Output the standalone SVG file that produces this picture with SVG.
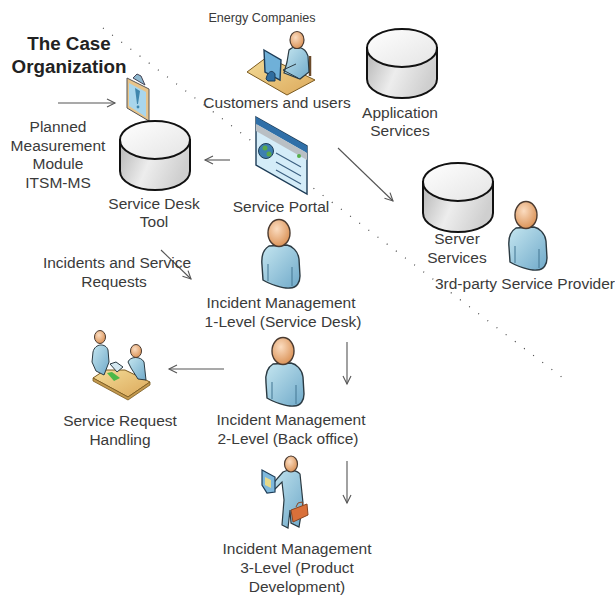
<svg xmlns="http://www.w3.org/2000/svg" width="615" height="596" viewBox="0 0 615 596">
<style>
text{font-family:"Liberation Sans",Arial,sans-serif;font-size:15.5px;fill:#3a3a3a;text-anchor:middle}
.t{font-weight:bold;font-size:18.8px;fill:#222}
.e{font-size:12.6px}
.c{fill:none;stroke:#555;stroke-width:1.1}
</style>
<defs>
<linearGradient id="cy" x1="0" x2="1" y1="0" y2="0.3"><stop offset="0" stop-color="#b4b4b4"/><stop offset=".5" stop-color="#ededed"/><stop offset="1" stop-color="#cfcfcf"/></linearGradient>
<linearGradient id="ct" x1="0" x2="1" y1="0" y2="1"><stop offset="0" stop-color="#fff"/><stop offset="1" stop-color="#e4e4e4"/></linearGradient>
<radialGradient id="sk" cx=".4" cy=".35" r=".7"><stop offset="0" stop-color="#fbdcc0"/><stop offset="1" stop-color="#d98f52"/></radialGradient>
<linearGradient id="bl" x1="0" x2="1" y1="0" y2="1"><stop offset="0" stop-color="#c5e6f0"/><stop offset="1" stop-color="#6fa9c9"/></linearGradient>
<linearGradient id="tb" x1="0" x2="1" y1="0" y2="1"><stop offset="0" stop-color="#f3dc98"/><stop offset="1" stop-color="#dca85a"/></linearGradient>
<marker id="a" markerWidth="11" markerHeight="11" refX="9" refY="5" orient="auto" markerUnits="userSpaceOnUse"><path d="M1 1L9 5L1 9" fill="none" stroke="#555" stroke-width="1.1"/></marker>
<g id="cyl">
<path d="M0 19V50C0 61 16 69 35 69S70 61 70 50V19Z" fill="url(#cy)" stroke="#111" stroke-width="2"/>
<ellipse cx="35" cy="19" rx="35" ry="19" fill="url(#ct)" stroke="#111" stroke-width="2"/>
</g>
<g id="per">
<path d="M-10 13C-15 16-18 22-17 32L-16 47C-10 51 5 56 11 55C18 55 21 49 21 43L20 26C19 18 13 13 8 12Z" fill="url(#bl)" stroke="#2b3a42" stroke-width="1.4"/>
<path d="M-11 31V48M13 34V53" fill="none" stroke="#4a7d99" stroke-width="1.1"/>
<ellipse cx="0" cy="0" rx="11" ry="13.5" fill="url(#sk)" stroke="#4a3a30" stroke-width="1.4"/>
</g>
</defs>
<rect width="615" height="596" fill="#fff"/>
<g id="connectors">
<path d="M103 28L567 381" fill="none" stroke="#444" stroke-width="1.2" stroke-dasharray="1 10.5"/>
<path class="c" marker-end="url(#a)" d="M58 103H115"/>
<path class="c" marker-end="url(#a)" d="M230 160H205"/>
<path class="c" marker-end="url(#a)" d="M338 148L393 201"/>
<path class="c" marker-end="url(#a)" d="M161 250L191 279"/>
<path class="c" marker-end="url(#a)" d="M224 369H169"/>
<path class="c" marker-end="url(#a)" d="M347 342V384"/>
<path class="c" marker-end="url(#a)" d="M347 461V503"/>
</g>
<g id="case-org"><text class="t" x="69" y="50">The Case</text><text class="t" x="69" y="73">Organization</text></g>
<g id="energy-companies">
<text class="e" x="262" y="22">Energy Companies</text>
<path d="M247 72L267 57L315 80L287 95Z" fill="url(#tb)" stroke="#7a5a20" stroke-width="1"/>
<path d="M310 56V76" stroke="#6b4a2a" stroke-width="2.5" fill="none"/>
<path d="M289 50C294 45 305 46 308 56L309 72L300 79L284 73L287 62Z" fill="url(#bl)" stroke="#2b3a42" stroke-width="1.2"/>
<path d="M283 70L296 64M283 70L298 78" stroke="#2b3a42" stroke-width="1" fill="none"/>
<ellipse cx="297" cy="40" rx="7" ry="8.5" fill="url(#sk)" stroke="#4a3a30" stroke-width="1.2"/>
<path d="M264 50L281 60L280 80L265 72Z" fill="#6fb0d8" stroke="#1d3c57" stroke-width="1.4"/>
<path d="M266 79C268 70 273 70 275 74L275 81L268 81Z" fill="#2f6d9f" stroke="#1d3c57"/>
<text x="277" y="108">Customers and users</text>
</g>
<g id="application-services"><use href="#cyl" x="367" y="29"/><text x="400" y="118">Application</text><text x="400" y="136">Services</text></g>
<g id="service-desk-tool">
<path d="M127 78L149 89V121L127 108Z" fill="#e8c48a" stroke="#555" stroke-width="1"/>
<path d="M129 83L146 92V117L129 106Z" fill="#a9d6ec"/>
<path d="M133 78L137 74L141 76L145 85Z" fill="#8fb8cf" stroke="#445" stroke-width="1"/>
<path d="M135 88L140 91L138 104H137Z" fill="#3f86ad"/>
<circle cx="138" cy="107" r="1.4" fill="#3f86ad"/>
<use href="#cyl" x="120" y="121"/>
<text x="154" y="209">Service Desk</text><text x="154" y="227">Tool</text>
</g>
<g id="planned-module"><text x="58" y="132">Planned</text><text x="58" y="151">Measurement</text><text x="58" y="169">Module</text><text x="58" y="188">ITSM-MS</text></g>
<g id="service-portal">
<path d="M256 117L307 146V194L256 165Z" fill="#d4ecf8" stroke="#1d3c57" stroke-width="1.4"/>
<path d="M256 117L307 146V153L256 124Z" fill="#2f6fa8"/>
<path d="M256 124L307 153V160L256 131Z" fill="#b9bfc4"/>
<circle cx="266" cy="151" r="7.5" fill="#3d7fb0" stroke="#1d3c57"/><circle cx="265" cy="148" r="2.5" fill="#5aa84a"/><circle cx="269" cy="154" r="2.5" fill="#5aa84a"/>
<path d="M276 153L301 167M276 162L301 176M276 170L301 184" stroke="#3b5f80" stroke-width="1.1" fill="none"/>
<circle cx="299" cy="156" r="2" fill="#55b04a"/>
<text x="281" y="212">Service Portal</text>
</g>
<g id="server-services"><use href="#cyl" x="423" y="163"/><text x="457" y="244">Server</text><text x="457" y="263">Services</text></g>
<g id="provider"><use href="#per" x="526" y="215"/><text x="525" y="289">3rd-party Service Provider</text></g>
<g id="incidents-label"><text x="117" y="268">Incidents and Service</text><text x="114" y="287">Requests</text></g>
<g id="level1"><use href="#per" x="279" y="233"/><text x="281" y="308">Incident Management</text><text x="283" y="327">1-Level (Service Desk)</text></g>
<g id="level2"><use href="#per" x="283" y="351"/><text x="291" y="425">Incident Management</text><text x="288" y="444">2-Level (Back office)</text></g>
<g id="request-handling">
<path d="M93 378L105 370H125L150 382L128 397Z" fill="url(#tb)" stroke="#7a5a20" stroke-width="1"/>
<path d="M93 378V381L128 400L150 385V382L128 397Z" fill="#c49a50" stroke="#7a5a20" stroke-width=".8"/>
<path d="M93 352C95 343 106 343 108 350L109 362L104 375L96 371L92 362Z" fill="url(#bl)" stroke="#2b3a42" stroke-width="1"/>
<ellipse cx="100" cy="337" rx="5.5" ry="6.5" fill="url(#sk)" stroke="#4a3a30"/>
<path d="M128 362C130 356 141 356 144 362L146 380L138 379L131 368Z" fill="url(#bl)" stroke="#2b3a42" stroke-width="1"/>
<ellipse cx="136" cy="351" rx="5.5" ry="6.5" fill="url(#sk)" stroke="#4a3a30"/>
<path d="M110 364L116 362L123 367L117 372Z" fill="#d5e8f0" stroke="#2b3a42"/>
<path d="M107 373L112 372L120 378L114 381Z" fill="#4db848"/>
<text x="120" y="426">Service Request</text><text x="120" y="445">Handling</text>
</g>
<g id="level3">
<path d="M283 472C288 469 297 470 300 474L303 503L299 527L291 523L290 510L288 528L282 525L284 500L282 482L272 492L269 488Z" fill="url(#bl)" stroke="#2b3a42" stroke-width="1.2"/>
<ellipse cx="291" cy="464" rx="6.5" ry="8" fill="url(#sk)" stroke="#4a3a30" stroke-width="1.2"/>
<path d="M262 470L275 477V492L267 493L262 485Z" fill="#7eb8dc" stroke="#1d3c57" stroke-width="1.2"/>
<path d="M265 477L271 480V488L265 485Z" fill="#e6d98a"/>
<path d="M291 510L307 504L308 515L293 522Z" fill="#d9703a" stroke="#8a4520"/>
<path d="M296 507L298 503L302 502L303 505" fill="none" stroke="#8a4520"/>
<text x="297" y="554">Incident Management</text><text x="297" y="573">3-Level (Product</text><text x="297" y="592">Development)</text>
</g>
</svg>
